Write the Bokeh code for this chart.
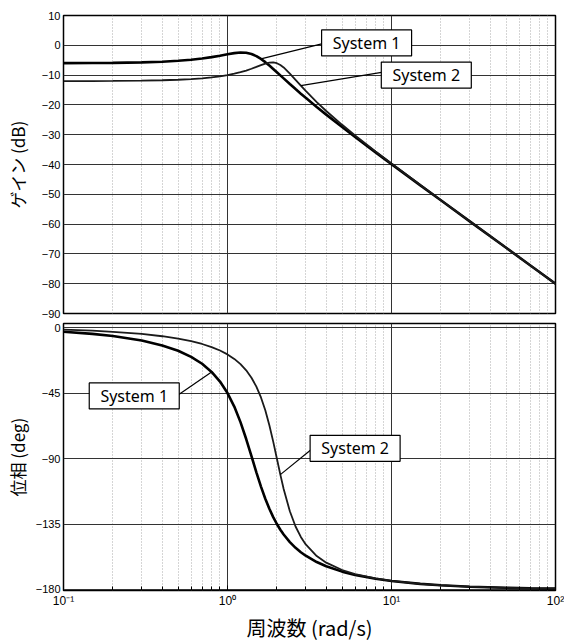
from bokeh.plotting import figure
from bokeh.models import Range1d, FixedTicker, CustomJSTickFormatter, ColumnDataSource
from bokeh.layouts import column
from bokeh.embed import file_html
from bokeh.resources import INLINE
from bokeh.core.properties import value

# ---- data ----
freq = [0.1, 0.15, 0.2, 0.3, 0.4, 0.5, 0.6, 0.7, 0.8, 0.9, 1.0, 1.1, 1.2, 1.3, 1.4,
        1.5, 1.6, 1.7, 1.8, 1.9, 2.0, 2.1, 2.2, 2.4, 2.6, 2.8, 3.0, 3.5, 4.0, 5.0,
        6.0, 8.0, 10, 15, 20, 30, 50, 70, 100]

gain_sys1 = [-5.99, -5.95, -5.89, -5.73, -5.50, -5.20, -4.84, -4.43, -3.96, -3.48,
             -3.01, -2.63, -2.44, -2.52, -2.93, -3.64, -4.58, -5.66, -6.79, -7.93,
             -9.03, -10.09, -11.11, -12.99, -14.69, -16.23, -17.63, -20.69, -23.26,
             -27.44, -30.76, -35.92, -39.87, -46.99, -52.01, -59.07, -67.95, -73.80, -80.00]

gain_sys2 = [-12.02, -12.00, -11.97, -11.87, -11.73, -11.56, -11.34, -11.08, -10.77, -10.41,
             -10.00, -9.54, -9.03, -8.47, -7.87, -7.25, -6.66, -6.15, -5.82, -5.75,
             -6.02, -6.61, -7.44, -9.47, -11.58, -13.54, -15.31, -19.05, -22.04,
             -26.68, -30.25, -35.64, -39.69, -46.91, -51.96, -59.05, -67.95, -73.80, -80.00]

phase_sys1 = [-2.88, -4.34, -5.83, -8.93, -12.26, -15.95, -20.09, -24.87, -30.47, -37.10,
              -45.00, -54.31, -64.98, -76.59, -88.36, -99.46, -109.29, -117.64, -124.56,
              -130.28, -135.00, -138.93, -142.24, -147.45, -151.36, -154.39, -156.80,
              -161.15, -164.05, -167.74, -169.99, -172.65, -174.17, -176.15, -177.12,
              -178.09, -178.85, -179.18, -179.43]

phase_sys2 = [-1.44, -2.16, -2.89, -4.39, -5.95, -7.59, -9.36, -11.28, -13.39, -15.76,
              -18.43, -21.52, -25.11, -29.37, -34.46, -40.60, -48.01, -56.86, -67.11,
              -78.40, -90.00, -101.05, -110.90, -126.25, -136.71, -143.90, -149.04,
              -157.01, -161.57, -166.61, -169.38, -172.41, -174.05, -176.12, -177.11,
              -178.08, -178.85, -179.18, -179.43]

series_names = ["System 1", "System 2"]
gain_ticks = [10, 0, -10, -20, -30, -40, -50, -60, -70, -80, -90]
phase_ticks = [0, -45, -90, -135, -180]
decade_ticks = [0.1, 1, 10, 100]
minor_ticks = [0.2, 0.3, 0.4, 0.5, 0.6, 0.7, 0.8, 0.9,
               2, 3, 4, 5, 6, 7, 8, 9,
               20, 30, 40, 50, 60, 70, 80, 90]

# annotation placement (data coordinates): label centre, leader start, curve frequency
gain_notes = [dict(cx=7.05, cy=0.8, sx=3.75, sy=0.5, f=1.6, curve=gain_sys1),
              dict(cx=16.3, cy=-10.0, sx=8.7, sy=-9.1, f=2.8, curve=gain_sys2)]
phase_notes = [dict(cx=0.27, cy=-47.0, sx=0.505, sy=-46.0, f=0.8, curve=phase_sys1),
               dict(cx=6.0, cy=-83.0, sx=3.23, sy=-84.0, f=2.1, curve=phase_sys2)]

TICK_FONT = "Liberation Sans"
CJK_FONT = "Noto Sans CJK JP"

sup_formatter = CustomJSTickFormatter(code="""
const e = Math.round(Math.log10(tick));
const sup = {"-1": "\u207b\u00b9", "0": "\u2070", "1": "\u00b9", "2": "\u00b2"};
return "10" + (sup[String(e)] || "");
""")


def make_fig(yr, yticks, height, ylabel, b_top, b_bottom, ylabel_standoff):
    p = figure(x_axis_type="log", x_range=Range1d(0.1, 100), y_range=Range1d(*yr),
               width=564, height=height,
               min_border_left=63, min_border_right=9,
               min_border_top=b_top, min_border_bottom=b_bottom,
               output_backend="svg", toolbar_location=None,
               background_fill_color="white", border_fill_color="white")
    xt = FixedTicker(ticks=decade_ticks, minor_ticks=minor_ticks)
    yt = FixedTicker(ticks=yticks)
    p.xaxis.ticker = xt
    p.xgrid.ticker = xt
    p.yaxis.ticker = yt
    p.ygrid.ticker = yt
    p.xaxis.formatter = sup_formatter

    p.xgrid.grid_line_color = "#333333"
    p.xgrid.grid_line_width = 1
    p.xgrid.minor_grid_line_color = "#aaaaaa"
    p.xgrid.minor_grid_line_dash = "1 2"
    p.xgrid.minor_grid_line_width = 1
    p.ygrid.grid_line_color = "#333333"
    p.ygrid.grid_line_width = 1

    p.outline_line_color = "black"
    p.outline_line_width = 1.5

    for ax in (p.xaxis, p.yaxis):
        ax.axis_line_color = None
        ax.major_tick_out = 0
        ax.major_tick_in = 0
        ax.minor_tick_out = 0
        ax.minor_tick_in = 0
        ax.major_label_text_font = TICK_FONT
        ax.major_label_text_font_size = "11px"
        ax.major_label_text_color = "black"
        ax.axis_label_text_font = CJK_FONT
        ax.axis_label_text_font_style = "normal"
        ax.axis_label_text_color = "black"
    p.yaxis.major_label_standoff = 3
    p.yaxis.axis_label = ylabel
    p.yaxis.axis_label_text_font_size = "17px"
    p.yaxis.axis_label_standoff = ylabel_standoff
    p.xaxis.minor_tick_in = 4
    p.xaxis.major_tick_in = 5
    p.xaxis.minor_tick_line_color = "black"
    p.xaxis.major_tick_line_color = "black"
    return p


def add_curves(p, y1, y2):
    p.line(freq, y1, line_color="black", line_width=2.6)
    p.line(freq, y2, line_color="#1a1a1a", line_width=1.8)


def add_notes(p, notes):
    src = ColumnDataSource(dict(
        x0=[n["sx"] for n in notes], y0=[n["sy"] for n in notes],
        x1=[n["f"] for n in notes],
        y1=[n["curve"][freq.index(n["f"])] for n in notes],
        cx=[n["cx"] for n in notes], cy=[n["cy"] for n in notes],
        txt=series_names))
    p.segment(x0="x0", y0="y0", x1="x1", y1="y1", source=src,
              line_color="black", line_width=1.2)
    p.rect(x="cx", y="cy", width=90, height=26, width_units="screen",
           height_units="screen", source=src, fill_color="white",
           line_color="black", line_width=1.2)
    p.text(x="cx", y="cy", text="txt", source=src, text_align="center",
           text_baseline="middle", text_font=value("Noto Sans"),
           text_font_size="16px", text_color="black")


p1 = make_fig((-90, 10), gain_ticks, 320, "ゲイン (dB)", 15, 7, 9)
p1.xaxis.visible = False
add_curves(p1, gain_sys1, gain_sys2)
add_notes(p1, gain_notes)

p2 = make_fig((-180.7, 2.8), phase_ticks, 324, "位相 (deg)", 3, 50, 3)
p2.xaxis.axis_label = "周波数 (rad/s)"
p2.xaxis.axis_label_text_font_size = "20px"
p2.xaxis.major_label_text_font_size = "12px"
p2.xaxis.major_label_standoff = 3
p2.xaxis.axis_label_standoff = 2
add_curves(p2, phase_sys1, phase_sys2)
add_notes(p2, phase_notes)

layout = column(p1, p2, spacing=0)
open("out.html", "w", encoding="utf-8").write(file_html(layout, INLINE))
